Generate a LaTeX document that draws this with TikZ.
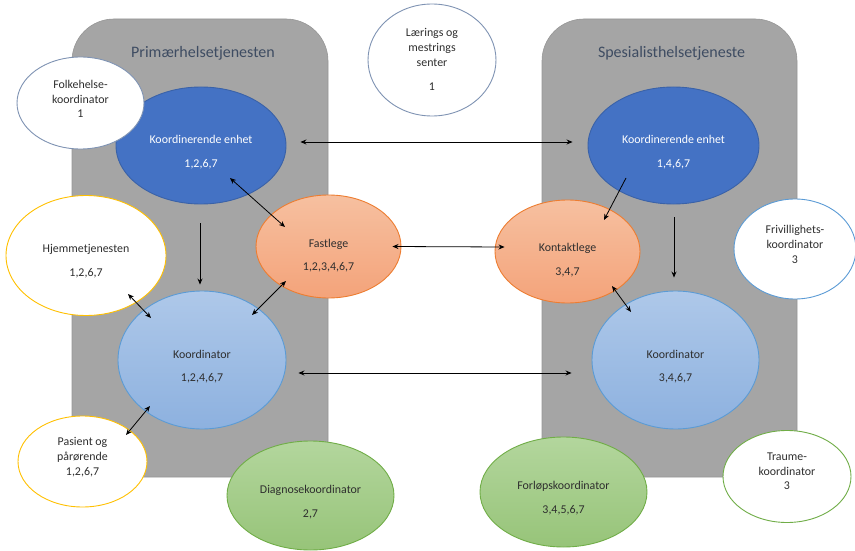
\documentclass[tikz,border=0pt]{standalone}
\usepackage{fontspec}
\setmainfont{Carlito}
\usetikzlibrary{shapes.geometric,arrows.meta}
\definecolor{boxgray}{HTML}{A5A5A5}
\definecolor{boxedge}{HTML}{969696}
\definecolor{titlecol}{HTML}{3E4C62}
\definecolor{txtgray}{HTML}{2E2E2E}
\definecolor{slateedge}{HTML}{7F93B3}
\definecolor{goldedge}{HTML}{FFC000}
\definecolor{blueedge}{HTML}{5B9BD5}
\definecolor{greenedge}{HTML}{70AD47}
\definecolor{darkblue}{HTML}{4472C4}
\definecolor{darkblueedge}{HTML}{3A62A8}
\definecolor{orangetop}{HTML}{F6C0A0}
\definecolor{orangebot}{HTML}{F4A37A}
\definecolor{orangeedge}{HTML}{ED7D31}
\definecolor{lbluetop}{HTML}{AEC8E9}
\definecolor{lbluebot}{HTML}{8DB1DF}
\definecolor{greentop}{HTML}{B3D69D}
\definecolor{greenbot}{HTML}{97C479}
\begin{document}
\begin{tikzpicture}[x=1pt,y=-1pt,
  ell/.style={ellipse, inner sep=0pt, line width=0.9pt},
  whiteell/.style={ell, fill=white},
  dblue/.style={ell, fill=darkblue, draw=darkblueedge},
  orangeell/.style={ell, top color=orangetop, bottom color=orangebot, draw=orangeedge},
  lblue/.style={ell, top color=lbluetop, bottom color=lbluebot, draw=blueedge},
  greenell/.style={ell, top color=greentop, bottom color=greenbot, draw=greenedge},
  txt/.style={align=center, font=\fontsize{11.9}{14.7}\selectfont, text=txtgray, inner sep=0pt},
  wtxt/.style={txt, text=white},
  titletxt/.style={font=\fontsize{16}{19}\selectfont, text=titlecol, inner sep=0pt},
  area/.style={fill=boxgray, draw=boxedge, line width=0.6pt},
  arr/.style={line width=0.8pt, {Stealth[length=6pt,width=5pt]}-{Stealth[length=6pt,width=5pt]}},
  arrone/.style={line width=0.8pt, -{Stealth[length=6pt,width=5pt]}}]
\useasboundingbox (0,0) rectangle (855,551);

% service areas
\path[area] (72,477) -- (72,61) arc[start angle=180,end angle=270,radius=42]
  -- (286,19) arc[start angle=270,end angle=360,radius=42] -- (328,477) -- cycle;
\path[area] (542,477) -- (542,61) arc[start angle=180,end angle=270,radius=42]
  -- (755,19) arc[start angle=270,end angle=360,radius=42] -- (797,477) -- cycle;
\node[titletxt] (tprim) at (203,53) {Primærhelsetjenesten};
\node[titletxt] (tspes) at (671.5,53) {Spesialisthelsetjeneste};

% main ellipses
\node[dblue, minimum width=170pt, minimum height=117pt] (kel) at (201,145.5) {};
\node[dblue, minimum width=171pt, minimum height=117pt] (ker) at (673.5,145.5) {};
\node[orangeell, minimum width=145pt, minimum height=103pt] (fast) at (328.5,246.5) {};
\node[orangeell, minimum width=145pt, minimum height=103pt] (kon) at (567.5,251.5) {};
\node[lblue, minimum width=168pt, minimum height=138pt] (kol) at (202,360) {};
\node[lblue, minimum width=167pt, minimum height=138pt] (kor) at (675.5,360) {};
\node[greenell, minimum width=167pt, minimum height=109pt] (diag) at (310.5,495.5) {};
\node[greenell, minimum width=167pt, minimum height=110pt] (forl) at (563.5,492) {};

% outer white ellipses
\node[whiteell, draw=slateedge, minimum width=127pt, minimum height=92pt] (folk) at (80.5,103) {};
\node[whiteell, draw=slateedge, minimum width=128pt, minimum height=112pt] (lms) at (432,60) {};
\node[whiteell, draw=goldedge, minimum width=160pt, minimum height=120pt] (hjem) at (86,255.5) {};
\node[whiteell, draw=goldedge, minimum width=129pt, minimum height=91pt] (pas) at (82.5,461.5) {};
\node[whiteell, draw=blueedge, minimum width=122pt, minimum height=100pt] (friv) at (795,249) {};
\node[whiteell, draw=greenedge, minimum width=128pt, minimum height=92pt] (traume) at (787,476.5) {};

% texts
\node[wtxt] (kelT) at (201,152) {Koordinerende enhet\\[9pt]1,2,6,7};
\node[wtxt] (kerT) at (673.5,152) {Koordinerende enhet\\[9pt]1,4,6,7};
\node[txt] (fastT) at (328.5,255.5) {Fastlege\\[9pt]1,2,3,4,6,7};
\node[txt] (konT) at (567.5,260) {Kontaktlege\\[9pt]3,4,7};
\node[txt] (kolT) at (202,366.5) {Koordinator\\[9pt]1,2,4,6,7};
\node[txt] (korT) at (675.5,366.5) {Koordinator\\[9pt]3,4,6,7};
\node[txt] (diagT) at (310.5,502) {Diagnosekoordinator\\[9pt]2,7};
\node[txt] (forlT) at (563.5,498) {Forløpskoordinator\\[9pt]3,4,5,6,7};
\node[txt] (folkT) at (80.5,99) {Folkehelse-\\koordinator\\1};
\node[txt] (lmsT) at (432,59.5) {Lærings og\\mestrings\\senter\\[9.5pt]1};
\node[txt] (hjemT) at (86,261.5) {Hjemmetjenesten\\[9pt]1,2,6,7};
\node[txt] (pasT) at (82.5,457) {Pasient og\\pårørende\\1,2,6,7};
\node[txt] (frivT) at (795,244.5) {Frivillighets-\\koordinator\\3};
\node[txt] (traumeT) at (787,471.5) {Traume-\\koordinator\\3};

% connectors
\draw[arr] ([shift={(14pt,3.5pt)}]kel.east) -- ([shift={(-15pt,3.5pt)}]ker.west);
\draw[arr] ([xshift=-9pt]fast.east) -- ([shift={(10pt,4.5pt)}]kon.west);
\draw[arr] ([shift={(12pt,-13pt)}]kol.east) -- ([shift={(-20pt,-13pt)}]kor.west);
\draw[arrone] ([shift={(-1pt,-19pt)}]kel.south) -- ([shift={(-2pt,6pt)}]kol.north);
\draw[arr] ([shift={(29pt,-32.5pt)}]kel.center) -- ([shift={(-43.5pt,19.5pt)}]fast.center);
\draw[arr] ([shift={(-42.5pt,-34.5pt)}]fast.center) -- ([shift={(50pt,45pt)}]kol.center);
\draw[arr] ([shift={(42pt,-38.5pt)}]hjem.center) -- ([shift={(-51pt,42pt)}]kol.center);
\draw[arr] ([shift={(43.5pt,26.5pt)}]pas.center) -- ([shift={(-52pt,-46pt)}]kol.center);
\draw[arrone] ([shift={(-47.5pt,-32.5pt)}]ker.center) -- ([shift={(36.5pt,31.5pt)}]kon.center);
\draw[arrone] ([shift={(0.5pt,-13pt)}]ker.south) -- ([shift={(-1.5pt,13pt)}]kor.north);
\draw[arr] ([shift={(44.5pt,-34.5pt)}]kon.center) -- ([shift={(-44.5pt,48pt)}]kor.center);
\end{tikzpicture}
\end{document}
